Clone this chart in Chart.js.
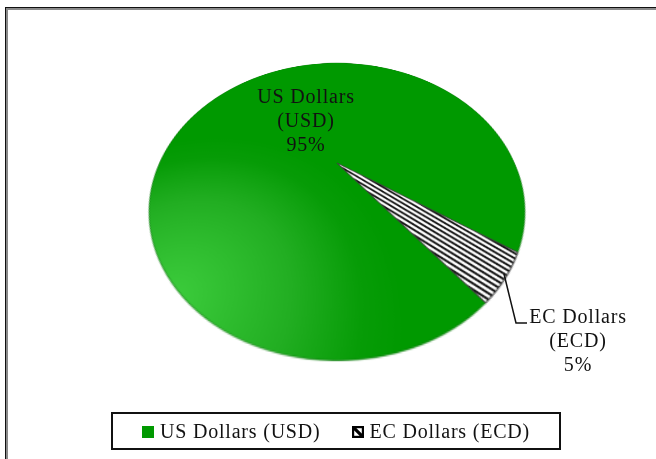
<!DOCTYPE html>
<html>
<head>
<meta charset="utf-8">
<script src="https://cdn.jsdelivr.net/npm/chart.js@4/dist/chart.umd.min.js"></script>
<style>
  html, body { margin: 0; padding: 0; width: 656px; height: 459px; overflow: hidden; background: #fff; }
  #stage { position: relative; width: 656px; height: 459px; overflow: hidden; font-family: "Liberation Serif", "Times New Roman", serif; color: #111; }
  #frame { position: absolute; left: 5px; top: 7px; width: 720px; height: 520px; border: 1px solid #111; box-shadow: inset 0 0 0 2px #8a8a8a; }
  /* the pie lies on a tilted plane seen in perspective */
  #pieWrap { position: absolute; left: 159px; top: -15px; width: 356px; height: 356px;
             transform: perspective(359px) rotateX(41.6deg); transform-origin: 50% 50%; }
  .lbl { position: absolute; text-align: center; font-size: 20px; line-height: 24.2px; letter-spacing: 0.8px; white-space: nowrap; }
  #leader { position: absolute; left: 0; top: 0; width: 656px; height: 459px; pointer-events: none; }
  #legend { position: absolute; left: 111px; top: 412px; width: 446px; height: 34px; border: 2px solid #111;
            display: flex; align-items: center; justify-content: center; gap: 31px; font-size: 20px; letter-spacing: 0.8px; }
  .item { display: flex; align-items: center; }
  .item canvas { width: 12px; height: 12px; margin-right: 6px; margin-top: 2px; }
</style>
</head>
<body>
<div id="stage">
  <div id="frame"></div>
  <div id="pieWrap"><canvas id="pie"></canvas></div>
  <svg id="leader" viewBox="0 0 656 459"><polyline points="504,274 516,323 527,323" fill="none" stroke="#111" stroke-width="1.5"/></svg>
  <div class="lbl" id="lblUSD" style="left:246px; top:84px; width:120px;"></div>
  <div class="lbl" id="lblECD" style="left:519px; top:304px; width:118px;"></div>
  <div id="legend"></div>
</div>
<script>
// Currency composition
const categories = ['US Dollars', 'EC Dollars'];
const codes = ['USD', 'ECD'];
const shares = [95, 5];

const GREEN = '#009900';

// Black/white diagonal hatch used for the EC Dollars slice
function makeHatch(ctx) {
  const tile = document.createElement('canvas');
  tile.width = 2; tile.height = 9;
  const t = tile.getContext('2d');
  t.fillStyle = '#ffffff'; t.fillRect(0, 0, 2, 9);
  t.fillStyle = '#111111'; t.fillRect(0, 0, 2, 4);
  const pat = ctx.createPattern(tile, 'repeat');
  pat.setTransform(new DOMMatrix().rotate(38).scale(0.5));
  return pat;
}

// Green shading: light toward the lower-left rim, full green elsewhere
function greenFill(context) {
  const chart = context.chart;
  const area = chart.chartArea;
  if (!area) return GREEN;
  const cx = (area.left + area.right) / 2, cy = (area.top + area.bottom) / 2;
  const gx = cx - 125, gy = cy + 137;
  const g = chart.ctx.createRadialGradient(gx, gy, 0, gx, gy, 175);
  g.addColorStop(0, '#3dcd3d');
  g.addColorStop(0.52, '#22ae22');
  g.addColorStop(0.82, '#079c07');
  g.addColorStop(1, GREEN);
  return g;
}

const pieCanvas = document.getElementById('pie');
const hatch = makeHatch(pieCanvas.getContext('2d'));

const chart = new Chart(pieCanvas, {
  type: 'pie',
  data: {
    labels: categories.map((c, i) => `${c} (${codes[i]})`),
    datasets: [{
      data: shares,
      backgroundColor: (ctx) => ctx.dataIndex === 0 ? greenFill(ctx) : hatch,
      borderColor: ['rgba(0,110,0,0.55)', '#444444'],
      borderWidth: 1,
      hoverOffset: 0
    }]
  },
  options: {
    responsive: true,
    maintainAspectRatio: false,
    devicePixelRatio: 2,
    animation: false,
    events: [],
    rotation: 141.5,
    layout: { padding: 0 },
    plugins: { legend: { display: false }, tooltip: { enabled: false } }
  }
});

// Slice labels: name, code, share
const total = shares.reduce((a, b) => a + b, 0);
['lblUSD', 'lblECD'].forEach((id, i) => {
  const pct = Math.round(shares[i] / total * 100);
  document.getElementById(id).innerHTML =
    `${categories[i]}<br>(${codes[i]})<br>${pct}%`;
});

// Legend swatches
function drawSwatch(cv, i) {
  cv.width = 24; cv.height = 24;
  const c = cv.getContext('2d');
  c.scale(2, 2);
  if (i === 0) {
    c.fillStyle = GREEN; c.fillRect(0, 0, 12, 12);
  } else {
    c.fillStyle = '#fff'; c.fillRect(0, 0, 12, 12);
    c.save();
    c.beginPath(); c.rect(0, 0, 12, 12); c.clip();
    c.strokeStyle = '#000'; c.lineWidth = 3.2;
    c.beginPath(); c.moveTo(-1, -1); c.lineTo(13, 13); c.stroke();
    c.restore();
    c.strokeStyle = '#000'; c.lineWidth = 2.2; c.strokeRect(1.1, 1.1, 9.8, 9.8);
  }
}
const legend = document.getElementById('legend');
chart.data.labels.forEach((text, i) => {
  const item = document.createElement('div');
  item.className = 'item';
  const sw = document.createElement('canvas');
  drawSwatch(sw, i);
  const span = document.createElement('span');
  span.textContent = text;
  item.appendChild(sw); item.appendChild(span);
  legend.appendChild(item);
});
</script>
</body>
</html>
